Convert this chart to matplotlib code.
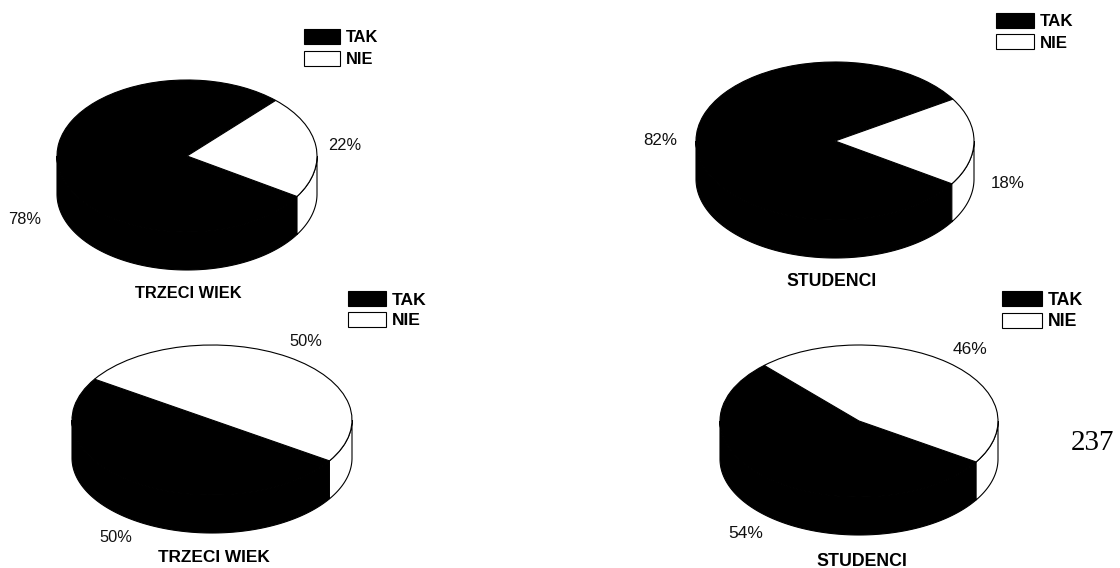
import numpy as np
import matplotlib
matplotlib.use("Agg")
import matplotlib.pyplot as plt

plt.rcParams["font.family"] = ["Liberation Sans", "DejaVu Sans"]

W, H = 1120, 568

# datos
categorias = ["TAK", "NIE"]
trzeci_wiek_1 = [78, 22]
studenci_1 = [82, 18]
trzeci_wiek_2 = [50, 50]
studenci_2 = [54, 46]

# (valores, titulo, cx, cy, rx, ry, profundidad, angulo inicial)
graficos = [
    (trzeci_wiek_1, "TRZECI WIEK", 187, 156, 130, 76, 38, 47),
    (studenci_1, "STUDENCI", 835, 141, 139, 79, 38, 32),
    (trzeci_wiek_2, "TRZECI WIEK", 212, 420, 140, 75, 38, 147),
    (studenci_2, "STUDENCI", 859, 421, 139, 76, 38, 133),
]
# posiciones de las etiquetas en pixeles: (TAK, NIE, titulo)
etiquetas_pos = [
    ((25, 219), (345, 146), (188, 294)),
    ((660, 141), (1008, 183), (832, 282)),
    ((116, 537), (306, 341), (214, 558)),
    ((746, 533), (970, 350), (862, 561)),
]
# tamanos de letra: porcentaje, titulo, leyenda
tamanos = [(11.8, 11.8, 11.8), (12.2, 12.7, 12.2), (11.8, 12.4, 12.6), (12.5, 12.8, 12.8)]
# leyenda: x, y, ancho del rectangulo
leyenda_pos = [(304, 29, 36), (996, 13, 38), (348, 291, 38), (1002, 291, 40)]


def px(x, y):
    return x / W, 1 - y / H


def dibujar_pie(fig, valores, titulo, cx, cy, rx, ry, prof, inicio):
    margen = 1.05
    izq = cx - rx * margen
    abajo = H - (cy + ry * margen + prof)
    ax = fig.add_axes(
        [izq / W, abajo / H, 2 * rx * margen / W, (2 * ry * margen + prof) / H]
    )
    wedges, _ = ax.pie(
        valores,
        startangle=inicio,
        colors=["black", "white"],
        wedgeprops={"edgecolor": "black", "linewidth": 0.8, "zorder": 3},
    )
    ax.set_aspect("auto")
    ax.set_xlim(-margen, margen)
    ax.set_ylim(-margen - prof / ry, margen)

    # Pared lateral: solo la parte de abajo de cada porcion
    for w in wedges:
        t1 = max(w.theta1, 180)
        t2 = min(w.theta2, 360)
        if t2 <= t1:
            continue
        t = np.radians(np.linspace(t1, t2, 120))
        xs = np.cos(t)
        ys = np.sin(t)
        ax.fill(
            np.r_[xs, xs[::-1]],
            np.r_[ys, ys[::-1] - prof / ry],
            facecolor=w.get_facecolor(),
            edgecolor="black",
            linewidth=0.8,
            zorder=2,
        )
    return wedges


fig = plt.figure(figsize=(W / 100, H / 100), dpi=100)

for g, pos, ley, tam in zip(graficos, etiquetas_pos, leyenda_pos, tamanos):
    valores, titulo = g[0], g[1]
    wedges = dibujar_pie(fig, *g)

    # porcentajes y titulo
    for v, p in zip(valores, pos[:2]):
        x, y = px(*p)
        fig.text(x, y, f"{v}%", ha="center", va="center", fontsize=tam[0], color="#111111")
    x, y = px(*pos[2])
    fig.text(x, y, titulo, ha="center", va="center", fontsize=tam[1], fontweight="bold")

    # leyenda
    x, y = px(ley[0], ley[1])
    letra_px = tam[2] * 100 / 72
    wedges[0].axes.legend(
        wedges,
        categorias,
        loc="upper left",
        bbox_to_anchor=(x, y),
        bbox_transform=fig.transFigure,
        frameon=False,
        borderpad=0,
        borderaxespad=0,
        handlelength=ley[2] / letra_px,
        handleheight=(15 / letra_px - 0.245) / 0.65,
        handletextpad=6 / letra_px,
        labelspacing=(21 - 0.95 * letra_px) / letra_px,
        prop={"size": tam[2], "weight": "bold"},
    )

x, y = px(1092, 443)
fig.text(x, y, "237", ha="center", va="center", fontsize=21, family="Liberation Serif")

fig.savefig("out.png", dpi=100)
